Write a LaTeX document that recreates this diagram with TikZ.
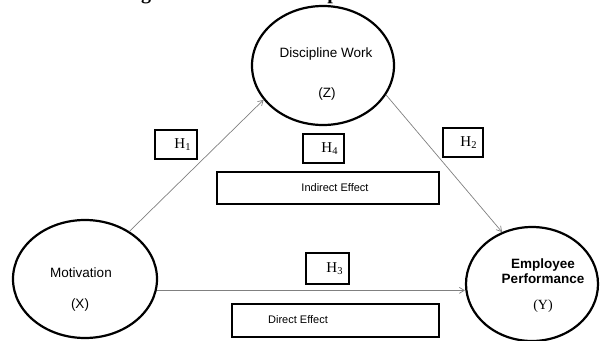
\documentclass[tikz,border=0pt]{standalone}
\usepackage{fontspec}
\setmainfont{Liberation Serif}
\setsansfont{Liberation Sans}
\usetikzlibrary{shapes.geometric}
\usetikzlibrary{arrows.meta}

\tikzset{
  var/.style={draw,ellipse,line width=2.2pt,inner sep=0pt},
  hyp/.style={draw,line width=2pt,inner xsep=6pt,inner ysep=0pt,align=right,
    font=\fontsize{15}{15}\selectfont},
  effbox/.style={draw,line width=2pt,inner sep=0pt},
  lbl/.style={font=\sffamily\fontsize{13.5}{16}\selectfont},
  efftext/.style={font=\sffamily\fontsize{11}{13}\selectfont},
  link/.style={gray,line width=0.7pt,-{Straight Barb[length=5pt,width=6pt]}},
  ttl/.style={font=\bfseries\fontsize{20}{20}\selectfont,anchor=base,inner sep=0pt}
}

\begin{document}
\begin{tikzpicture}[x=1pt,y=-1pt]
    \useasboundingbox (0,0) rectangle (601,340);
    \clip (0,0) rectangle (601,340);
    % cut heading at the top
    \node[ttl] (ttlg) at (146,-0.5) {g};
    \node[ttl] (ttlp) at (333,-0.5) {p};

    % variables
    \node[var,minimum width=142pt,minimum height=119pt] (Z) at (323,65.5) {};
    \node[var,minimum width=144pt,minimum height=118pt] (X) at (85,279) {};
    \node[var,minimum width=132pt,minimum height=114pt] (Y) at (532,284) {};
    \node[lbl] (zname) at (326,54) {Discipline Work};
    \node[lbl] (zsym) at (327,94) {(Z)};
    \node[lbl] (xname) at (81,273) {Motivation};
    \node[lbl] (xsym) at (80,305) {(X)};
    \node[lbl,font=\sffamily\bfseries\fontsize{13.5}{15.5}\selectfont,align=center] (yname) at (543,271) {Employee\\Performance};
    \node[font=\fontsize{14}{14}\selectfont] (ysym) at (543,306) {(Y)};

    % hypotheses
    \node[hyp,minimum width=42pt,minimum height=29pt,text width=30pt] (h1) at (176,144.5) {H\textsubscript{1}};
    \node[hyp,minimum width=41pt,minimum height=29pt,text width=29pt] (h4) at (323.5,148.5) {H\textsubscript{4}};
    \node[hyp,minimum width=40pt,minimum height=29pt,text width=28pt] (h2) at (463,142.5) {H\textsubscript{2}};
    \node[hyp,minimum width=41pt,minimum height=31pt,text width=31pt] (h3) at (327.5,268.5) {H\textsubscript{3}};

    % effects
    \node[effbox,minimum width=222pt,minimum height=32pt] (ind) at (328,188) {};
    \node[efftext] (indtxt) at (335,188) {Indirect Effect};
    \node[effbox,minimum width=207pt,minimum height=33pt] (dir) at (335.5,320.5) {};
    \node[efftext] (dirtxt) at (298,320) {Direct Effect};

    % paths
    \draw[link] (X.47) -- (Z.210);
    \draw[link] (Z.335) -- (Y.120);
    \draw[link] (X.-9) -- (X.-9 -| Y.west);
\end{tikzpicture}
\end{document}
